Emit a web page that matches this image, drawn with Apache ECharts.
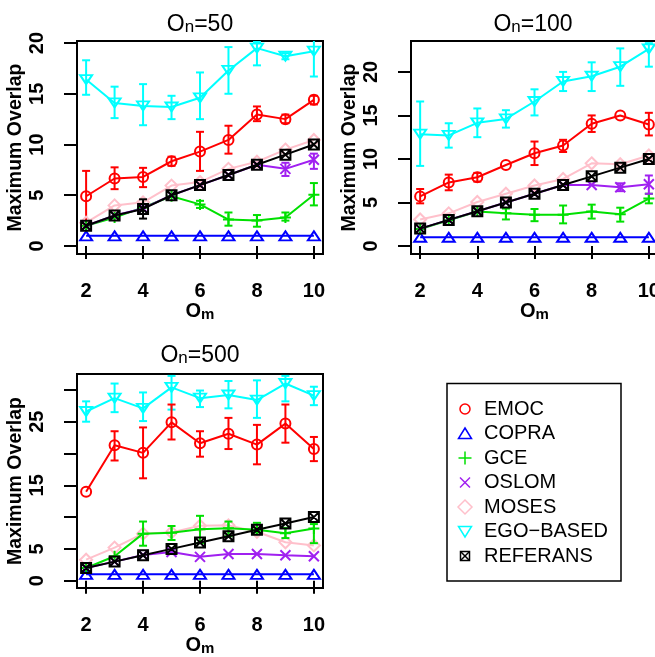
<!DOCTYPE html>
<html>
<head>
<meta charset="utf-8">
<script src="https://cdn.jsdelivr.net/npm/echarts@6/dist/echarts.min.js"></script>
<style>
  html, body { margin: 0; padding: 0; background: #ffffff; }
  #chart { width: 655px; height: 657px; }
</style>
</head>
<body>
<div id="chart"></div>
<script>
// ---- shared axes ----
const omValues = [2, 3, 4, 5, 6, 7, 8, 9, 10];
const xTickValues = [2, 4, 6, 8, 10];
const methodNames = ['EMOC', 'COPRA', 'GCE', 'OSLOM', 'MOSES', 'EGO\u2212BASED', 'REFERANS'];
const panelSizes = ['50', '100', '500'];

// ---- On = 50 ----
const emoc50 = [4.9, 6.65, 6.8, 8.35, 9.3, 10.45, 12.95, 12.5, 14.4];
const emoc50Lo = [2.1, 5.6, 5.8, 7.9, 7.4, 9.1, 12.3, 12.1, 13.95];
const emoc50Hi = [7.4, 7.75, 7.7, 8.8, 11.25, 11.85, 13.75, 12.95, 14.8];
const copra50 = [1, 1, 1, 1, 1, 1, 1, 1, 1];
const gce50 = [2.0, 2.8, 3.8, 4.9, 4.1, 2.6, 2.5, 2.8, 5.05];
const gce50Lo = [null, null, null, null, 3.75, 2.0, 1.9, 2.5, 4.0];
const gce50Hi = [null, null, null, null, 4.45, 3.3, 3.05, 3.3, 6.2];
const oslom50 = [2, 3, 3.7, 5, 6, 7, 8, 7.6, 8.5];
const oslom50Lo = [null, null, null, null, null, null, null, 6.9, 7.6];
const oslom50Hi = [null, null, null, null, null, null, null, 8.2, 9.1];
const moses50 = [2.3, 4.0, 4.3, 5.95, 6.3, 7.6, 8.3, 9.5, 10.45];
const ego50 = [16.4, 14.1, 13.8, 13.7, 14.6, 17.3, 19.5, 18.7, 19.2];
const ego50Lo = [14.9, 12.6, 11.9, 12.5, 12.5, 15.0, 17.8, 18.4, 16.7];
const ego50Hi = [18.3, 15.7, 15.95, 14.8, 17.1, 19.6, 20.1, 19.0, 20.5];
const ref50 = [2, 3, 3.65, 5, 6, 7, 8, 9, 10];
const ref50Lo = [null, null, 2.7, null, null, null, null, null, null];
const ref50Hi = [null, null, 4.6, null, null, null, null, null, null];

// ---- On = 100 ----
const emoc100 = [5.7, 7.3, 7.9, 9.3, 10.65, 11.55, 14.05, 15.0, 13.95];
const emoc100Lo = [4.9, 6.4, 7.4, null, 9.3, 10.8, 13.1, null, 12.7];
const emoc100Hi = [6.55, 8.2, 8.4, null, 12.0, 12.2, 15.0, null, 15.3];
const copra100 = [1, 1, 1, 1, 1, 1, 1, 1, 1];
const gce100 = [1.95, 2.95, 3.95, 3.75, 3.6, 3.6, 3.95, 3.65, 5.45];
const gce100Lo = [null, null, null, 3.05, 2.85, 2.6, 3.15, 2.8, 4.9];
const gce100Hi = [null, null, null, 4.3, 4.25, 4.65, 4.75, 4.4, 6.0];
const oslom100 = [2, 3, 4, 5, 6, 7, 7.0, 6.75, 7.1];
const oslom100Lo = [null, null, null, null, null, null, null, 6.3, 6.0];
const oslom100Hi = [null, null, null, null, null, null, null, 7.2, 8.1];
const moses100 = [3.05, 3.75, 5.05, 6.0, 6.95, 7.7, 9.5, 9.4, 10.4];
const ego100 = [12.85, 12.7, 14.15, 14.6, 16.6, 18.9, 19.5, 20.6, 22.65];
const ego100Lo = [9.2, 11.3, 12.5, 13.6, 15.0, 17.8, 17.8, 18.4, 20.6];
const ego100Hi = [16.6, 14.1, 15.8, 15.6, 18.0, 20.0, 21.1, 22.7, 23.3];
const ref100 = [2, 3, 4, 5, 6, 7, 8, 9, 10];

// ---- On = 500 ----
const emoc500 = [14.0, 21.3, 20.1, 24.9, 21.6, 23.1, 21.4, 24.7, 20.7];
const emoc500Lo = [null, 18.9, 16.1, 22.2, 19.5, 20.7, 18.3, 21.7, 18.8];
const emoc500Hi = [null, 23.5, 24.1, 27.7, 23.5, 25.6, 24.5, 27.7, 22.6];
const copra500 = [1, 1, 1, 1, 1, 1, 1, 1, 1];
const gce500 = [2.0, 3.85, 7.4, 7.55, 8.1, 8.25, 8.0, 7.45, 8.2];
const gce500Lo = [null, null, 5.5, 6.4, 5.9, 7.0, 7.6, 6.7, 5.9];
const gce500Hi = [null, null, 9.3, 8.6, 10.2, 9.3, 9.1, 8.3, 8.9];
const oslom500 = [2.0, 3.0, 4.05, 4.5, 3.75, 4.2, 4.2, 4.0, 3.85];
const moses500 = [3.3, 5.2, 7.4, 7.6, 8.65, 8.7, 7.7, 6.05, 5.55];
const ego500 = [26.6, 28.7, 27.1, 30.4, 28.7, 29.2, 28.4, 31.0, 29.1];
const ego500Lo = [25.0, 26.5, 25.1, 26.9, 27.3, 27.1, 25.6, 28.2, 27.6];
const ego500Hi = [28.2, 31.0, 29.6, 32.2, 29.9, 31.4, 31.5, 32.2, 30.5];
const ref500 = [2, 3, 4, 5, 6, 7, 8, 9, 10];

// ---- y-axis ticks per panel ----
const yTicks50 = [0, 5, 10, 15, 20];
const yLabels50 = [0, 5, 10, 15, 20];
const yTicks100 = [0, 5, 10, 15, 20];
const yLabels100 = [0, 5, 10, 15, 20];
const yTicks500 = [0, 5, 10, 15, 20, 25, 30];
const yLabels500 = [0, 5, 15, 25];

// ---- styling ----
const FONT = '"Liberation Sans", Arial, Helvetica, sans-serif';
const methodColors = ['#FF0000', '#0000FF', '#00E000', '#A020F0', '#FFC0CB', '#00FFFF', '#000000'];
const methodSymbols = [
  'circle',
  'path://M5,0L10,8.66L0,8.66Z',
  'path://M0,5L10,5M5,0L5,10',
  'path://M0,0L10,10M10,0L0,10',
  'path://M5,0L10,5L5,10L0,5Z',
  'path://M0,0L10,0L5,8.66Z',
  'path://M0,0L10,0L10,10L0,10ZM0,0L10,10M10,0L0,10'
];
const methodSymbolSizes = [10, [12, 10.4], 11, 10, 12, [12, 10.4], 10];
// drawing order: first entries end up underneath
const drawOrder = [5, 0, 1, 4, 2, 3, 6];

const panels = [
  {
    size: panelSizes[0], grid: { left: 77, top: 41, width: 246, height: 213 },
    yMin: -0.79, yMax: 20.2, yTicks: yTicks50, yLabels: yLabels50, titleTop: 10,
    values: [emoc50, copra50, gce50, oslom50, moses50, ego50, ref50],
    lows: [emoc50Lo, null, gce50Lo, oslom50Lo, null, ego50Lo, ref50Lo],
    highs: [emoc50Hi, null, gce50Hi, oslom50Hi, null, ego50Hi, ref50Hi]
  },
  {
    size: panelSizes[1], grid: { left: 411, top: 41, width: 247, height: 213 },
    yMin: -0.92, yMax: 23.55, yTicks: yTicks100, yLabels: yLabels100, titleTop: 10,
    values: [emoc100, copra100, gce100, oslom100, moses100, ego100, ref100],
    lows: [emoc100Lo, null, gce100Lo, oslom100Lo, null, ego100Lo, null],
    highs: [emoc100Hi, null, gce100Hi, oslom100Hi, null, ego100Hi, null]
  },
  {
    size: panelSizes[2], grid: { left: 77, top: 374, width: 246, height: 214 },
    yMin: -1.15, yMax: 32.5, yTicks: yTicks500, yLabels: yLabels500, titleTop: 341,
    values: [emoc500, copra500, gce500, oslom500, moses500, ego500, ref500],
    lows: [emoc500Lo, null, gce500Lo, null, null, ego500Lo, null],
    highs: [emoc500Hi, null, gce500Hi, null, null, ego500Hi, null]
  }
];

function makeErrorBarRenderer(color) {
  return function (params, api) {
    const x = api.value(0);
    const pLo = api.coord([x, api.value(1)]);
    const pHi = api.coord([x, api.value(2)]);
    const half = 4;
    const style = { stroke: color, lineWidth: 2, fill: null };
    return {
      type: 'group',
      children: [
        { type: 'line', shape: { x1: pLo[0], y1: pLo[1], x2: pHi[0], y2: pHi[1] }, style: style },
        { type: 'line', shape: { x1: pLo[0] - half, y1: pLo[1], x2: pLo[0] + half, y2: pLo[1] }, style: style },
        { type: 'line', shape: { x1: pHi[0] - half, y1: pHi[1], x2: pHi[0] + half, y2: pHi[1] }, style: style }
      ]
    };
  };
}

const grids = [], xAxes = [], yAxes = [], series = [], titles = [];

const tickLabelStyle = { fontFamily: FONT, fontWeight: 'bold', fontSize: 20, color: '#000' };

panels.forEach(function (p, pi) {
  grids.push(Object.assign({
    show: true, borderColor: '#000', borderWidth: 2, backgroundColor: 'transparent',
    containLabel: false, outerBoundsMode: 'none'
  }, p.grid));
  xAxes.push({
    type: 'value', gridIndex: pi, min: 1.68, max: 10.32,
    axisLine: { show: false },
    splitLine: { show: false },
    axisTick: { show: true, length: 13, inside: false, customValues: xTickValues, lineStyle: { color: '#000', width: 2 } },
    axisLabel: Object.assign({ margin: 27, customValues: xTickValues, hideOverlap: false }, tickLabelStyle),
    name: '{o|O}{s|m}', nameLocation: 'middle', nameGap: 44,
    nameTextStyle: {
      rich: {
        o: { fontFamily: FONT, fontWeight: 'bold', fontSize: 20, lineHeight: 22, verticalAlign: 'bottom', color: '#000' },
        s: { fontFamily: FONT, fontWeight: 'bold', fontSize: 15, lineHeight: 8, verticalAlign: 'bottom', color: '#000' }
      }
    }
  });
  yAxes.push({
    type: 'value', gridIndex: pi, min: p.yMin, max: p.yMax,
    axisLine: { show: false },
    splitLine: { show: false },
    axisTick: { show: true, length: 13, inside: false, customValues: p.yTicks, lineStyle: { color: '#000', width: 2 } },
    axisLabel: Object.assign({ margin: 30, rotate: 90, customValues: p.yLabels, hideOverlap: false }, tickLabelStyle),
    name: 'Maximum Overlap', nameLocation: 'middle', nameGap: 50,
    nameTextStyle: { fontFamily: FONT, fontWeight: 'bold', fontSize: 19.5, color: '#000' }
  });
  titles.push({
    text: '{o|O}{s|n}{o|=' + p.size + '}',
    left: p.grid.left + (pi === 1 ? 122 : 123), textAlign: 'center', top: p.titleTop, padding: 0,
    textStyle: {
      fontWeight: 'normal',
      rich: {
        o: { fontFamily: FONT, fontWeight: 'normal', fontSize: 23, lineHeight: 26, verticalAlign: 'bottom', color: '#000' },
        s: { fontFamily: FONT, fontWeight: 'normal', fontSize: 17, lineHeight: 8, verticalAlign: 'bottom', color: '#000' }
      }
    }
  });

  drawOrder.forEach(function (mi, k) {
    const color = methodColors[mi];
    const lows = p.lows[mi], highs = p.highs[mi];
    if (lows && highs) {
      const barData = [];
      omValues.forEach(function (om, i) {
        if (lows[i] != null && highs[i] != null) barData.push([om, lows[i], highs[i]]);
      });
      series.push({
        type: 'custom', name: methodNames[mi] + ' error', xAxisIndex: pi, yAxisIndex: pi,
        data: barData, encode: { x: 0, y: [1, 2] }, clip: true, silent: true, z: 2 + k,
        renderItem: makeErrorBarRenderer(color)
      });
    }
    series.push({
      type: 'line', name: methodNames[mi], xAxisIndex: pi, yAxisIndex: pi,
      data: omValues.map(function (om, i) { return [om, p.values[mi][i]]; }),
      symbol: methodSymbols[mi], symbolSize: methodSymbolSizes[mi], symbolKeepAspect: true,
      showSymbol: true, showAllSymbol: true, clip: true, silent: true, z: 2 + k,
      lineStyle: { color: color, width: 2 },
      itemStyle: { color: 'rgba(0,0,0,0)', borderColor: color, borderWidth: 2 },
      emphasis: { disabled: true }
    });
  });
});

// ---- legend drawn as a boxed key ----
const legendX = 465, legendTextX = 484, legendRowY = [409, 433.5, 458, 482.5, 507, 531.5, 556];
function legendSymbol(mi, cx, cy) {
  const c = methodColors[mi];
  const st = { stroke: c, fill: null, lineWidth: 1.5 };
  switch (mi) {
    case 0: return { type: 'circle', shape: { cx: cx, cy: cy, r: 5 }, style: st };
    case 1: return { type: 'polygon', shape: { points: [[cx, cy - 5.5], [cx + 6.5, cy + 5], [cx - 6.5, cy + 5]] }, style: st };
    case 2: return { type: 'group', children: [
      { type: 'line', shape: { x1: cx - 6.5, y1: cy, x2: cx + 6.5, y2: cy }, style: st },
      { type: 'line', shape: { x1: cx, y1: cy - 6.5, x2: cx, y2: cy + 6.5 }, style: st }] };
    case 3: return { type: 'group', children: [
      { type: 'line', shape: { x1: cx - 5, y1: cy - 5, x2: cx + 5, y2: cy + 5 }, style: st },
      { type: 'line', shape: { x1: cx + 5, y1: cy - 5, x2: cx - 5, y2: cy + 5 }, style: st }] };
    case 4: return { type: 'polygon', shape: { points: [[cx, cy - 7], [cx + 7, cy], [cx, cy + 7], [cx - 7, cy]] }, style: st };
    case 5: return { type: 'polygon', shape: { points: [[cx - 6.5, cy - 5], [cx + 6.5, cy - 5], [cx, cy + 5.5]] }, style: st };
    default: return { type: 'group', children: [
      { type: 'rect', shape: { x: cx - 4.5, y: cy - 4.5, width: 9, height: 9 }, style: st },
      { type: 'line', shape: { x1: cx - 4.5, y1: cy - 4.5, x2: cx + 4.5, y2: cy + 4.5 }, style: st },
      { type: 'line', shape: { x1: cx + 4.5, y1: cy - 4.5, x2: cx - 4.5, y2: cy + 4.5 }, style: st }] };
  }
}
const legendElements = [
  { type: 'rect', shape: { x: 447, y: 383.5, width: 174, height: 197.5 }, style: { stroke: '#000', fill: '#fff', lineWidth: 1.5 } }
];
methodNames.forEach(function (name, mi) {
  legendElements.push(legendSymbol(mi, legendX, legendRowY[mi]));
  legendElements.push({
    type: 'text', x: legendTextX, y: legendRowY[mi],
    style: { text: name, font: '20px ' + FONT, fill: '#000', textVerticalAlign: 'middle', verticalAlign: 'middle' }
  });
});

const chart = echarts.init(document.getElementById('chart'), null, { renderer: 'canvas' });
chart.setOption({
  animation: false,
  backgroundColor: '#ffffff',
  title: titles,
  grid: grids,
  xAxis: xAxes,
  yAxis: yAxes,
  series: series,
  graphic: [{ type: 'group', silent: true, children: legendElements }]
});
</script>
</body>
</html>
